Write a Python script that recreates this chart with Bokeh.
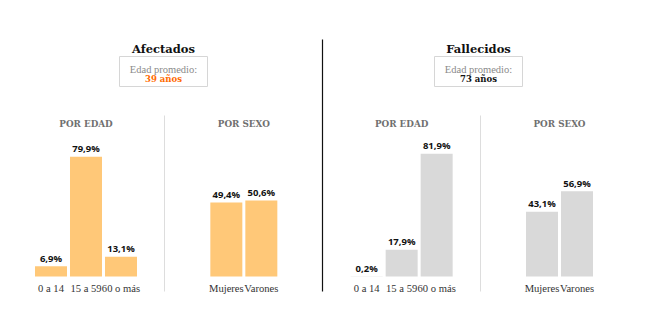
from bokeh.plotting import figure
from bokeh.models import FactorRange, Range1d, ColumnDataSource
from bokeh.core.properties import value
from bokeh.embed import file_html
from bokeh.resources import INLINE

# ---------------- data ----------------
panels = ["Afectados", "Fallecidos"]
edad_cats = ["0 a 14", "15 a 59", "60 o más"]
sexo_cats = ["Mujeres", "Varones"]
afectados_edad = [6.9, 79.9, 13.1]
afectados_sexo = [49.4, 50.6]
fallecidos_edad = [0.2, 17.9, 81.9]
fallecidos_sexo = [43.1, 56.9]
edad_promedio = ["39 años", "73 años"]
section_titles = ["POR EDAD", "POR SEXO"]
bar_colors = ["#FFC878", "#D9D9D9"]
promedio_colors = ["#FF6A00", "#111111"]

# ---------------- layout constants ----------------
W, H = 650, 324
L, R = 33, 56
GP = 2.01
n_units = 10 + 3 * GP
ppu = (W - L - R) / n_units
Y0, Y1 = -32, 184


def sx(px):
    return (px - L) / ppu


def sy(py):
    return Y1 - py * (Y1 - Y0) / H


def fmt(v):
    return f"{v:.1f}".replace(".", ",") + "%"


groups = []
for pi, panel in enumerate(panels):
    groups.append((f"{panel}|edad", edad_cats, [afectados_edad, fallecidos_edad][pi], pi))
    groups.append((f"{panel}|sexo", sexo_cats, [afectados_sexo, fallecidos_sexo][pi], pi))

xs, tops, labels, cols, cats = [], [], [], [], []
for gname, cl, vals, pi in groups:
    for c, v in zip(cl, vals):
        xs.append((gname, c))
        tops.append(v)
        labels.append(fmt(v))
        cols.append(bar_colors[pi])
        cats.append(c)

src = ColumnDataSource(dict(x=xs, top=tops, label=labels, color=cols, cat=cats))

p = figure(width=W, height=H, output_backend="svg", toolbar_location=None,
           x_range=FactorRange(*xs, range_padding=0, group_padding=GP, factor_padding=0),
           y_range=Range1d(Y0, Y1),
           x_axis_location=None, y_axis_location=None,
           min_border_left=L, min_border_right=R, min_border_top=0, min_border_bottom=0)
p.outline_line_color = None
p.xgrid.visible = False
p.ygrid.visible = False
p.background_fill_color = "white"
p.border_fill_color = "white"

p.vbar(x="x", top="top", width=32 / ppu, bottom=0, source=src,
       fill_color="color", line_color=None)

p.text(x="x", y="top", text="label", source=src, y_offset=-8,
       text_align="center", text_baseline="alphabetic",
       text_font=value("Open Sans"), text_font_style="bold",
       text_font_size="9.5px", text_color="#111111")

p.text(x="x", y=0, text="cat", source=src, y_offset=12,
       text_align="center", text_baseline="alphabetic",
       text_font=value("Liberation Serif"), text_font_size="10.6px",
       text_color="#333333")

# section headers over group centres
for gname, cl, vals, pi in groups:
    sec = section_titles[0] if gname.endswith("edad") else section_titles[1]
    p.text(x=[gname], y=[sy(123.5)], text=[sec], text_align="center",
           text_baseline="alphabetic", text_font=value("DejaVu Serif"),
           text_font_style="bold", text_font_size="8.8px", text_color="#707070")

# panel titles, boxes, separators
panel_cx = [163, 478]
sep_x = [164, 480]
for pi, panel in enumerate(panels):
    cx = sx(panel_cx[pi])
    p.text(x=[cx], y=[sy(48.5)], text=[panel], text_align="center",
           text_baseline="alphabetic", text_font=value("DejaVu Serif"),
           text_font_style="bold", text_font_size="11.5px", text_color="#111111")
    p.rect(x=[cx], y=[sy(71)], width=88, height=30, width_units="screen",
           height_units="screen", fill_color=None, line_color="#d6d6d6", line_width=1)
    p.text(x=[cx], y=[sy(69)], text=["Edad promedio:"], text_align="center",
           text_baseline="alphabetic", text_font=value("Liberation Serif"),
           text_font_size="10.5px", text_color="#8a8a8a")
    p.text(x=[cx], y=[sy(78.5)], text=[edad_promedio[pi]], text_align="center",
           text_baseline="alphabetic", text_font=value("DejaVu Serif"),
           text_font_style="bold", text_font_size="8.5px", text_color=promedio_colors[pi])
    p.segment(x0=[sx(sep_x[pi])], y0=[sy(115)], x1=[sx(sep_x[pi])], y1=[sy(291)],
              line_color="#dddddd", line_width=1)

p.segment(x0=[sx(322)], y0=[sy(39)], x1=[sx(322)], y1=[sy(291)],
          line_color="#111111", line_width=1.2)

open("out.html", "w").write(file_html(p, INLINE))
